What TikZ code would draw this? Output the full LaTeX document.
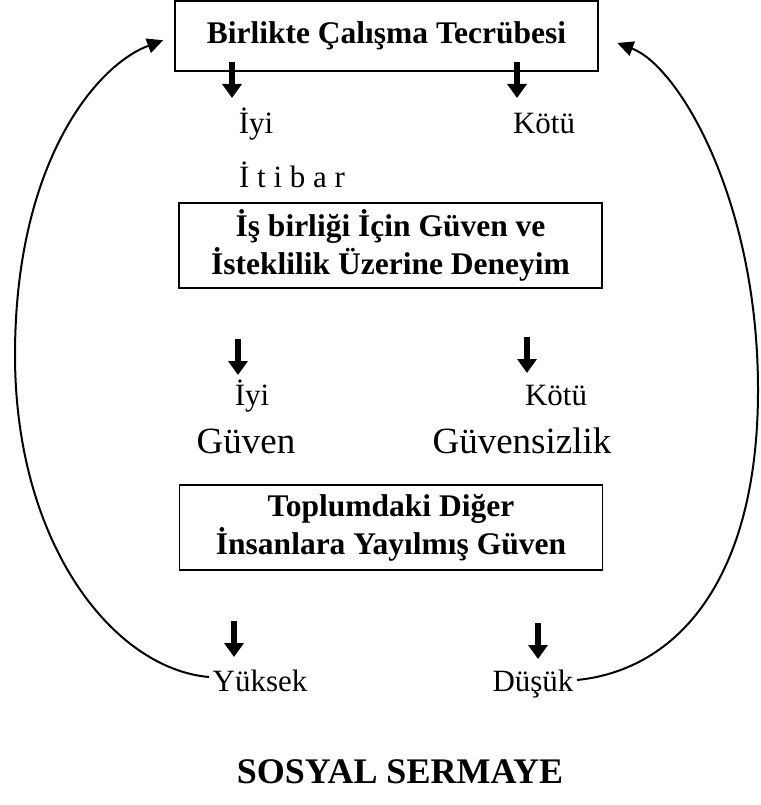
\documentclass[tikz,border=0pt]{standalone}
\usepackage{fontspec}
\setmainfont{Liberation Serif}
\usetikzlibrary{arrows.meta}
\tikzset{
  kutu/.style={draw, line width=1.2pt, minimum width=423pt, align=center,
    font=\bfseries\fontsize{31.5}{38}\selectfont},
  etiket/.style={font=\fontsize{31}{36}\selectfont, text height=21pt, text depth=7pt},
  buyuk/.style={font=\fontsize{37}{44}\selectfont, text height=25pt, text depth=8pt},
  okblok/.style={line width=6pt, -{Triangle[width=19pt,length=14pt]}},
  donus/.style={line width=2pt, -{Triangle[width=15pt,length=16pt]}},
}
\begin{document}
\begin{tikzpicture}[x=1pt, y=1pt]
\useasboundingbox (0,0) rectangle (760,-805);

% kutular
\node[kutu, minimum height=70pt] (kutu1) at (386.5,-36) {Birlikte Çalışma Tecrübesi};
\node[kutu, minimum height=85pt] (kutu2) at (390.5,-245.5) {İş birliği İçin Güven ve\\İsteklilik Üzerine Deneyim};
\node[kutu, minimum height=85pt] (kutu3) at (391,-527.5) {Toplumdaki Diğer\\İnsanlara Yayılmış Güven};

% etiketler
\node[etiket] (iyi1) at (256,-127) {İyi};
\node[etiket] (kotu1) at (544,-127) {Kötü};
\node[etiket, font=\fontsize{31}{38}\selectfont] (itibar) at (292,-180) {İ t i b a r};
\node[etiket] (iyi2) at (252,-398) {İyi};
\node[etiket] (kotu2) at (556,-398) {Kötü};
\node[buyuk] (guven) at (246,-445) {Güven};
\node[buyuk] (guvensiz) at (522,-445) {Güvensizlik};
\node[etiket] (yuksek) at (260,-684) {Yüksek};
\node[etiket] (dusuk) at (533,-684) {Düşük};
\node[font=\bfseries\fontsize{36}{42}\selectfont] (sosyal) at (400,-772) {SOSYAL SERMAYE};

% kalin oklar
\foreach \x/\y in {232/-62, 517/-62, 238/-339, 527/-337, 234/-621, 538/-623}
  \draw[okblok] (\x,\y) -- ++(0,-36);

% donus egrileri
\coordinate (solort) at (15,-355);
\coordinate (sagort) at (758,-390);
\draw[donus, shorten >=12pt] ([yshift=7pt]yuksek.west) .. controls +(-95,8) and +(0,-190) .. (solort)
  .. controls +(0,190) and +(-80,-30) .. (kutu1.west);
\draw[donus, shorten >=20pt] ([yshift=4pt]dusuk.east) .. controls +(100,10) and +(0,-190) .. (sagort)
  .. controls +(0,190) and +(80,-30) .. (kutu1.east);
\end{tikzpicture}
\end{document}
